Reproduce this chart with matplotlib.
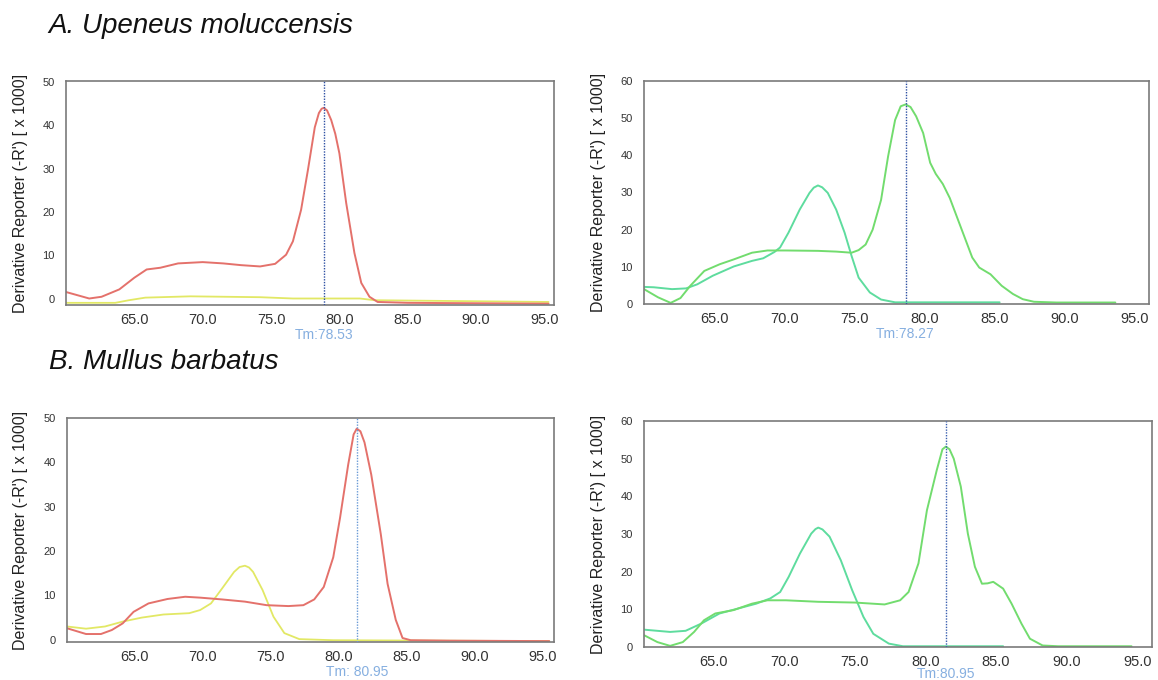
import matplotlib
matplotlib.use("Agg")
import matplotlib.pyplot as plt

plt.rcParams['font.family'] = ['Liberation Sans', 'DejaVu Sans']

# ---------------- data ----------------
# Panel A (Upeneus moluccensis), left
a_left_red_x = [60.0, 61.7, 62.6, 63.9, 65.0, 65.9, 66.9, 68.2, 70.0, 71.5, 72.8, 74.2, 75.3,
                76.1, 76.6, 77.2, 77.7, 78.2, 78.5, 78.7, 78.86, 79.1, 79.4, 79.7, 80.0, 80.5,
                81.1, 81.6, 82.2, 82.8, 85.0, 95.3]
a_left_red_y = [1.5, 0.0, 0.4, 2.1, 4.8, 6.7, 7.1, 8.1, 8.4, 8.1, 7.7, 7.4, 8.0,
                10.1, 13.2, 20.5, 29.7, 39.5, 42.8, 43.8, 44.0, 43.4, 41.2, 38.0, 33.5, 22.0,
                10.5, 3.6, 0.4, -0.8, -1.0, -1.2]
a_left_yel_x = [60.0, 63.6, 64.6, 65.8, 69.1, 74.2, 76.6, 81.5, 82.6, 95.3]
a_left_yel_y = [-1.0, -1.0, -0.4, 0.2, 0.5, 0.3, 0.0, 0.0, -0.4, -0.8]

# Panel A, right
a_right_g1_x = [60.0, 61.0, 61.9, 62.6, 63.3, 64.3, 65.4, 66.4, 67.7, 68.8, 70.1, 72.4, 73.7,
                74.8, 75.3, 75.8, 76.3, 76.9, 77.4, 77.9, 78.3, 78.65, 79.0, 79.4, 79.9, 80.4,
                80.8, 81.3, 81.8, 82.6, 83.4, 83.9, 84.7, 85.5, 86.3, 87.0, 87.8, 89.4, 93.6]
a_right_g1_y = [4.0, 1.8, 0.3, 1.6, 4.9, 8.9, 10.7, 12.0, 13.8, 14.4, 14.4, 14.3, 14.1,
                13.8, 14.5, 16.0, 20.0, 28.0, 39.7, 49.5, 53.2, 53.7, 53.0, 50.5, 46.0, 38.0,
                35.0, 32.3, 28.5, 20.5, 12.5, 9.8, 8.0, 4.9, 2.7, 1.3, 0.6, 0.4, 0.4]
a_right_g2_x = [60.0, 60.7, 62.0, 63.0, 63.8, 64.9, 66.4, 67.7, 68.5, 69.3, 69.7, 70.3, 71.1,
                71.8, 72.1, 72.4, 72.7, 73.1, 73.7, 74.3, 74.8, 75.3, 76.1, 76.9, 77.9, 85.35]
a_right_g2_y = [4.6, 4.5, 4.0, 4.2, 5.3, 7.6, 10.1, 11.6, 12.3, 14.0, 15.2, 19.2, 25.4,
                29.9, 31.3, 31.9, 31.4, 29.9, 25.4, 19.2, 12.9, 7.1, 3.1, 1.2, 0.45, 0.45]

# Panel B (Mullus barbatus), left
b_left_red_x = [60.0, 61.4, 62.5, 63.3, 64.1, 64.9, 66.0, 67.4, 68.7, 69.8, 71.4, 73.1, 74.7,
                76.3, 77.4, 78.2, 78.9, 79.6, 80.1, 80.7, 81.1, 81.33, 81.6, 81.9, 82.4, 83.1,
                83.6, 84.2, 84.7, 85.3, 88.2, 95.5]
b_left_red_y = [2.6, 1.3, 1.3, 2.2, 3.7, 6.3, 8.2, 9.2, 9.7, 9.5, 9.1, 8.6, 7.8,
                7.6, 7.8, 9.1, 11.9, 18.6, 27.5, 39.5, 46.3, 47.6, 47.0, 44.5, 37.2, 23.8,
                12.6, 4.5, 0.4, -0.1, -0.2, -0.3]
b_left_yel_x = [60.0, 61.4, 62.8, 64.1, 65.5, 67.1, 69.0, 69.8, 70.6, 71.4, 72.3, 72.7, 73.1,
                73.4, 73.7, 74.4, 75.2, 76.0, 77.1, 79.6, 95.5]
b_left_yel_y = [3.0, 2.5, 3.0, 4.1, 5.0, 5.7, 6.0, 6.7, 8.2, 11.5, 15.3, 16.4, 16.7,
                16.3, 15.3, 11.2, 5.2, 1.5, 0.15, -0.1, -0.3]

# Panel B, right
b_right_g1_x = [60.07, 61.0, 61.9, 62.8, 63.6, 64.3, 65.1, 66.4, 67.7, 68.8, 70.1, 72.4, 75.0,
                77.1, 78.2, 78.8, 79.5, 80.1, 80.8, 81.2, 81.44, 81.7, 82.0, 82.5, 83.0, 83.5,
                84.0, 84.4, 84.8, 85.5, 86.1, 86.8, 87.4, 88.3, 89.4, 94.6]
b_right_g1_y = [3.1, 1.3, 0.3, 1.3, 4.0, 7.1, 8.9, 9.8, 11.5, 12.4, 12.4, 12.0, 11.8,
                11.3, 12.4, 14.6, 22.2, 36.3, 47.0, 52.5, 53.2, 52.5, 50.0, 42.6, 30.1, 21.3,
                16.8, 16.9, 17.3, 15.5, 11.5, 6.2, 2.2, 0.4, 0.2, 0.2]
b_right_g2_x = [60.07, 61.9, 63.0, 64.1, 65.4, 66.7, 68.0, 69.0, 69.7, 70.3, 71.1, 71.9, 72.2,
                72.4, 72.7, 73.2, 74.0, 74.8, 75.6, 76.3, 77.4, 78.4, 85.5]
b_right_g2_y = [4.6, 4.0, 4.3, 6.2, 8.9, 10.2, 11.5, 12.9, 14.6, 18.6, 24.8, 30.1, 31.3,
                31.7, 31.2, 29.3, 23.0, 15.1, 8.0, 3.5, 0.9, 0.2, 0.2]

x_ticks = [65.0, 70.0, 75.0, 80.0, 85.0, 90.0, 95.0]
y_ticks_50 = [0, 10, 20, 30, 40, 50]
y_ticks_60 = [0, 10, 20, 30, 40, 50, 60]
tm_labels = ["Tm:78.53", "Tm:78.27", "Tm: 80.95", "Tm:80.95"]
tm_line_x = [78.86, 78.65, 81.33, 81.44]
titles = ["A. Upeneus moluccensis", "B. Mullus barbatus"]
ylabel = "Derivative Reporter (-R') [ x 1000]"

# ---------------- styling ----------------
RED = "#e4716b"
YEL = "#e2e865"
GRN = "#72dc6e"
TEAL = "#5edc9e"
W, H = 1158, 680

fig = plt.figure(figsize=(W / 100, H / 100), dpi=100)


def px_axes(x0, x1, ytop, ybot):
    return fig.add_axes([x0 / W, (H - ybot) / H, (x1 - x0) / W, (ybot - ytop) / H])


def style(ax, xlim, ylim, yticks, tm_x, tm_text, vcolor, label_x, tm_y=-0.135):
    ax.set_xlim(*xlim)
    ax.set_ylim(*ylim)
    ax.set_xticks(x_ticks)
    ax.set_xticklabels([f"{v:.1f}" for v in x_ticks])
    ax.set_yticks(yticks)
    ax.set_yticklabels([str(v) for v in yticks])
    ax.tick_params(axis='x', length=0, pad=6, labelsize=10.5, labelcolor="#333333")
    ax.tick_params(axis='y', length=0, pad=8, labelsize=8, labelcolor="#333333")
    for s in ax.spines.values():
        s.set_color("#7a7a7a")
        s.set_linewidth(1.2)
    ax.axvline(tm_x, color=vcolor, linestyle=(0, (1, 1)), linewidth=1.0, zorder=5)
    ax.text(tm_x, tm_y, tm_text, transform=ax.get_xaxis_transform(), ha="center", va="center",
            fontsize=10, color="#86afe0")
    ax.set_ylabel(ylabel, fontsize=11.5, color="#222222")
    ax.yaxis.set_label_coords(label_x, 0.5)
    for ln in ax.get_lines():
        ln.set_solid_joinstyle("round")
        ln.set_solid_capstyle("round")


# A left
ax1 = px_axes(66, 554, 81, 305)
ax1.plot(a_left_yel_x, a_left_yel_y, color=YEL, lw=1.3)
ax1.plot(a_left_red_x, a_left_red_y, color=RED, lw=1.4)
style(ax1, (60.0, 95.7), (-1.5, 50.2), y_ticks_50, tm_line_x[0], tm_labels[0], "#2d4fa3", -0.078)

# A right
ax2 = px_axes(644, 1149, 81, 304)
ax2.plot(a_right_g2_x, a_right_g2_y, color=TEAL, lw=1.4)
ax2.plot(a_right_g1_x, a_right_g1_y, color=GRN, lw=1.4)
style(ax2, (60.0, 96.0), (0, 60), y_ticks_60, tm_line_x[1], tm_labels[1], "#2d4fa3", -0.075)

# B left
ax3 = px_axes(67, 554, 418, 642)
ax3.plot(b_left_yel_x, b_left_yel_y, color=YEL, lw=1.3)
ax3.plot(b_left_red_x, b_left_red_y, color=RED, lw=1.4)
style(ax3, (60.0, 95.85), (-0.5, 49.6), y_ticks_50, tm_line_x[2], tm_labels[2], "#6a9ad6", -0.080)

# B right
ax4 = px_axes(644, 1152, 421, 647)
ax4.plot(b_right_g2_x, b_right_g2_y, color=TEAL, lw=1.4)
ax4.plot(b_right_g1_x, b_right_g1_y, color=GRN, lw=1.4)
style(ax4, (60.05, 96.05), (0, 60), y_ticks_60, tm_line_x[3], tm_labels[3], "#3a5fb0", -0.075,
      tm_y=-0.12)

fig.text(48 / W, 1 - 26 / H, titles[0], fontsize=20, style="italic", ha="left", va="center",
         color="#111111")
fig.text(49 / W, 1 - 362 / H, titles[1], fontsize=20, style="italic", ha="left", va="center",
         color="#111111")

fig.savefig("out.png", dpi=100)
